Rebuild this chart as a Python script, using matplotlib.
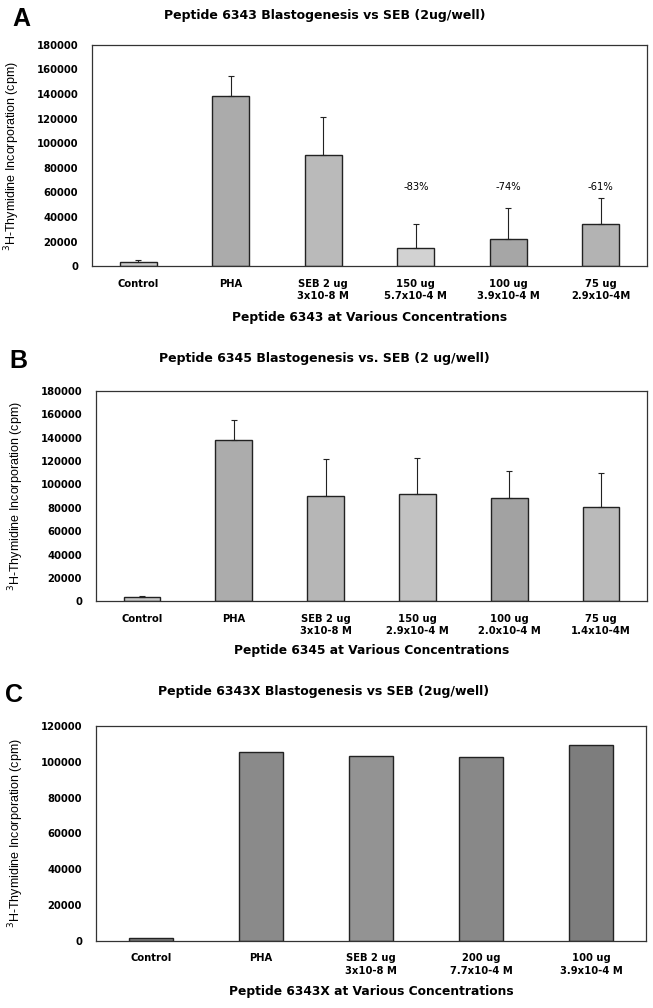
import numpy as np
import matplotlib
matplotlib.use("Agg")
import matplotlib.pyplot as plt

plt.rcParams['font.family'] = ['DejaVu Sans']

# panel A - peptide 6343
a_labels = ["Control", "PHA", "SEB 2 ug\n3x10-8 M", "150 ug\n5.7x10-4 M",
            "100 ug\n3.9x10-4 M", "75 ug\n2.9x10-4M"]
a_values = [3800, 138000, 90500, 14500, 22400, 34000]
a_errors = [1000, 16800, 30800, 19800, 24600, 21400]
a_pct = ["", "", "", "-83%", "-74%", "-61%"]
a_colors = ["#cdcdcd", "#ababab", "#bababa", "#d2d2d2", "#a6a6a6", "#b3b3b3"]

# panel B - peptide 6345
b_labels = ["Control", "PHA", "SEB 2 ug\n3x10-8 M", "150 ug\n2.9x10-4 M",
            "100 ug\n2.0x10-4 M", "75 ug\n1.4x10-4M"]
b_values = [3700, 138000, 90300, 92000, 88300, 80500]
b_errors = [1100, 16800, 31100, 30600, 23400, 29500]
b_colors = ["#c8c8c8", "#acacac", "#b6b6b6", "#c2c2c2", "#a2a2a2", "#bababa"]

# panel C - peptide 6343X
c_labels = ["Control", "PHA", "SEB 2 ug\n3x10-8 M", "200 ug\n7.7x10-4 M",
            "100 ug\n3.9x10-4 M"]
c_values = [1300, 105500, 103000, 102500, 109200]
c_colors = ["#7c7c7c", "#8a8a8a", "#939393", "#888888", "#7d7d7d"]

ylab = "$^3$H-Thymidine Incorporation (cpm)"
arial = ['Liberation Sans', 'DejaVu Sans']

fig = plt.figure(figsize=(6.53, 10.08), dpi=100)


def panel(rect, labels, values, colors, errors, ymax, ystep, xlab, xlab_y, ylab_x):
    ax = fig.add_axes(rect)
    x = np.arange(len(values))
    ax.bar(x, values, width=0.4, color=colors, edgecolor="#222222", linewidth=1.0, zorder=2)
    if errors is not None:
        ax.errorbar(x, values, yerr=[np.zeros(len(errors)), errors], fmt="none",
                    ecolor="#222222", elinewidth=0.8, capsize=2, capthick=0.8, zorder=3)
    ax.set_xlim(-0.5, len(values) - 0.5)
    ax.set_ylim(0, ymax)
    ax.set_yticks(np.arange(0, ymax + 1, ystep))
    ax.set_xticks(x)
    ax.set_xticklabels(labels, fontsize=7.2, fontweight="bold", linespacing=1.3)
    ax.tick_params(axis="y", length=0, pad=10, labelsize=7.2)
    ax.tick_params(axis="x", length=0, pad=9)
    for t in ax.get_yticklabels():
        t.set_fontweight("bold")
    for s in ax.spines.values():
        s.set_color("#333333")
        s.set_linewidth(0.9)
    bb = ax.get_position()
    fig.text(ylab_x / 653, bb.y0 + bb.height / 2, ylab, rotation=90, ha="center",
             va="center", fontsize=9, family=arial)
    ax.text(0.5, xlab_y, xlab, transform=ax.transAxes, ha="center", va="center",
            fontsize=8.8, fontweight="bold")
    return ax


axA = panel([0.1409, 0.7358, 0.850, 0.2198], a_labels, a_values, a_colors, a_errors,
            180000, 20000, "Peptide 6343 at Various Concentrations", -0.229, 12)
for i, p in enumerate(a_pct):
    if p:
        axA.text(i, 64700, p, ha="center", va="center", fontsize=7.2)

axB = panel([0.147, 0.4035, 0.8438, 0.2086], b_labels, b_values, b_colors, b_errors,
            180000, 20000, "Peptide 6345 at Various Concentrations", -0.236, 16)

axC = panel([0.147, 0.0668, 0.8423, 0.2130], c_labels, c_values, c_colors, None,
            120000, 20000, "Peptide 6343X at Various Concentrations", -0.239, 16)

# titles and panel letters
fig.text(325 / 653, 1 - 16 / 1008, "Peptide 6343 Blastogenesis vs SEB (2ug/well)",
         ha="center", va="center", fontsize=9, fontweight="bold")
fig.text(324 / 653, 1 - 358 / 1008, "Peptide 6345 Blastogenesis vs. SEB (2 ug/well)",
         ha="center", va="center", fontsize=9, fontweight="bold")
fig.text(324 / 653, 1 - 692 / 1008, "Peptide 6343X Blastogenesis vs SEB (2ug/well)",
         ha="center", va="center", fontsize=9, fontweight="bold")
fig.text(12 / 653, 1 - 19 / 1008, "A", ha="left", va="center", fontsize=18,
         fontweight="bold", family=arial)
fig.text(9 / 653, 1 - 361 / 1008, "B", ha="left", va="center", fontsize=18,
         fontweight="bold", family=arial)
fig.text(5 / 653, 1 - 695 / 1008, "C", ha="left", va="center", fontsize=18,
         fontweight="bold", family=arial)

fig.savefig("out.png", dpi=100)
